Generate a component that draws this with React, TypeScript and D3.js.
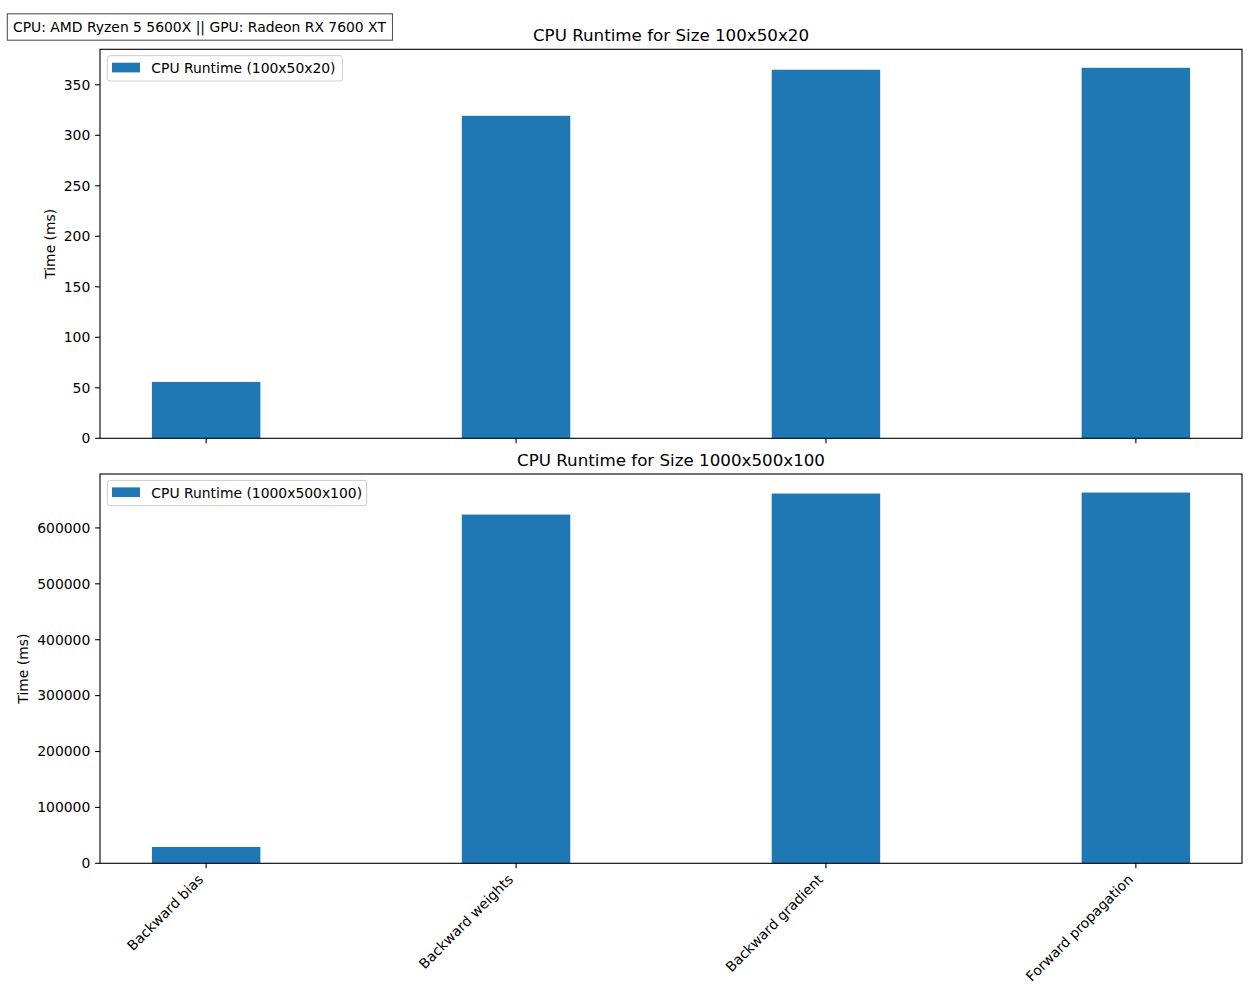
import * as d3 from 'd3';

// operations measured, one bar each
const categories = ['Backward bias', 'Backward weights', 'Backward gradient', 'Forward propagation'];

// runtimes in ms
const smallRuntimes = [55.8, 319.3, 364.9, 366.8];
const largeRuntimes = [29200, 623900, 661500, 663300];

const smallTicks = [0, 50, 100, 150, 200, 250, 300, 350];
const largeTicks = [0, 100000, 200000, 300000, 400000, 500000, 600000];

const hardwareNote = 'CPU: AMD Ryzen 5 5600X || GPU: Radeon RX 7600 XT';

const W = 1255;
const H = 997;
const FONT = '"DejaVu Sans", sans-serif';
const BLUE = '#1f77b4';
const BAR_W = 0.35;

const left = 100;
const right = 1242;

const x = d3.scaleLinear()
    .domain([-BAR_W / 2 - 0.05 * (categories.length - 1 + BAR_W), categories.length - 1 + BAR_W / 2 + 0.05 * (categories.length - 1 + BAR_W)])
    .range([left, right]);

interface PanelProps {
    top: number;
    bottom: number;
    values: number[];
    ticks: number[];
    title: string;
    label: string;
    ylabelX: number;
    showXLabels: boolean;
}

function Panel({ top, bottom, values, ticks, title, label, ylabelX, showXLabels }: PanelProps) {
    const y = d3.scaleLinear()
        .domain([0, (d3.max(values) ?? 0) * 1.05])
        .range([bottom, top]);
    const bw = x(BAR_W) - x(0);
    const legendW = 44 + label.length * 8.05 + 6;

    return (
        <g>
            {values.map((v, i) => (
                <rect key={i} x={x(i) - bw / 2} y={y(v)} width={bw} height={bottom - y(v)} fill={BLUE} />
            ))}

            {/* frame */}
            <rect x={left} y={top} width={right - left} height={bottom - top} fill="none" stroke="black" strokeWidth={1.1} />

            {/* y axis */}
            {ticks.map(t => (
                <g key={t}>
                    <line x1={left - 4.9} x2={left} y1={y(t)} y2={y(t)} stroke="black" strokeWidth={1.1} />
                    <text x={left - 9.7} y={y(t)} dy="0.35em" textAnchor="end" fontSize={13.9} fontFamily={FONT}>{t}</text>
                </g>
            ))}
            <text transform={`translate(${ylabelX},${(top + bottom) / 2}) rotate(-90)`} dy="0.35em" textAnchor="middle" fontSize={13.9} fontFamily={FONT}>Time (ms)</text>

            {/* x axis */}
            {categories.map((c, i) => (
                <g key={c}>
                    <line x1={x(i)} x2={x(i)} y1={bottom} y2={bottom + 4.9} stroke="black" strokeWidth={1.1} />
                    {showXLabels && (
                        <text transform={`translate(${x(i) - 2},${bottom + 17}) rotate(-45)`} textAnchor="end" fontSize={13.9} fontFamily={FONT}>{c}</text>
                    )}
                </g>
            ))}

            <text x={(left + right) / 2} y={top - 8.3} textAnchor="middle" fontSize={16.7} fontFamily={FONT}>{title}</text>

            {/* legend */}
            <g transform={`translate(${left + 7.3},${top + 6.4})`}>
                <rect width={legendW} height={25.3} rx={2.5} fill="white" fillOpacity={0.8} stroke="#cccccc" strokeWidth={1} />
                <rect x={4.7} y={7} width={28} height={9.7} fill={BLUE} />
                <text x={44} y={12.6} dy="0.35em" fontSize={13.9} fontFamily={FONT}>{label}</text>
            </g>
        </g>
    );
}

export default function App() {
    return (
        <svg width={W} height={H} style={{ position: 'absolute', left: 0, top: 0, background: 'white' }}>
            <rect width={W} height={H} fill="white" />
            <Panel
                top={49.3}
                bottom={438.3}
                values={smallRuntimes}
                ticks={smallTicks}
                title="CPU Runtime for Size 100x50x20"
                label="CPU Runtime (100x50x20)"
                ylabelX={50}
                showXLabels={false}
            />
            <Panel
                top={474}
                bottom={863.3}
                values={largeRuntimes}
                ticks={largeTicks}
                title="CPU Runtime for Size 1000x500x100"
                label="CPU Runtime (1000x500x100)"
                ylabelX={23.5}
                showXLabels={true}
            />
            {/* hardware note box */}
            <rect x={7.3} y={13.8} width={385.2} height={26.4} fill="white" stroke="#555555" strokeWidth={1.1} />
            <text x={13} y={27} dy="0.35em" fontSize={13.9} fontFamily={FONT}>{hardwareNote}</text>
        </svg>
    );
}
